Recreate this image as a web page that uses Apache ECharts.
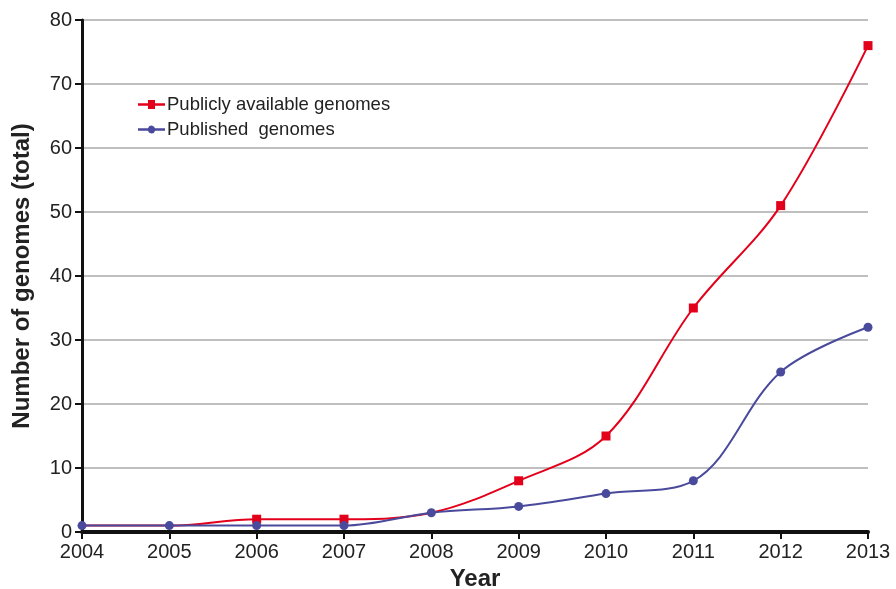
<!DOCTYPE html>
<html lang="en">
<head>
    <meta charset="UTF-8">
    <title>Genomes per year</title>
    <script src="https://cdn.jsdelivr.net/npm/echarts@6/dist/echarts.min.js"></script>
    <style>
        html, body { margin: 0; padding: 0; background: #fff; }
        #main { width: 896px; height: 589px; }
    </style>
</head>
<body>
    <div id="main"></div>
    <script type="text/javascript">
        // 数据
        var years = ['2004', '2005', '2006', '2007', '2008', '2009', '2010', '2011', '2012', '2013'];
        var publiclyAvailable = [1, 1, 2, 2, 3, 8, 15, 35, 51, 76];
        var published = [1, 1, 1, 1, 3, 4, 6, 8, 25, 32];

        var font = 'Liberation Sans, Arial, Helvetica, sans-serif';
        var red = '#e3001b';
        var blue = '#4a4a9c';

        // 蓝点与红点重合时隐藏红色方块
        function redSymbolSize(value, params) {
            return published[params.dataIndex] === publiclyAvailable[params.dataIndex] ? 0 : 9;
        }

        var option = {
            animation: false,
            textStyle: { fontFamily: font },
            grid: { left: 82, right: 28, top: 20, bottom: 57, outerBoundsMode: 'none', containLabel: false },
            legend: {
                orient: 'vertical',
                left: 133,
                top: 90,
                itemWidth: 27,
                itemHeight: 10,
                itemGap: 6,
                textStyle: { fontSize: 18.5, color: '#222', fontFamily: font, padding: [0, 0, 0, -3] },
                data: [
                    { name: 'Publicly available genomes', icon: 'path://M0,3.8 H10 V0.5 H17 V3.8 H27 V6.2 H17 V9.5 H10 V6.2 H0 Z' },
                    { name: 'Published  genomes', icon: 'path://M0,3.8 H10 A3.6,3.6 0 0 1 17,3.8 H27 V6.2 H17 A3.6,3.6 0 0 1 10,6.2 H0 Z' }
                ]
            },
            xAxis: {
                type: 'category',
                data: years,
                boundaryGap: false,
                name: 'Year',
                nameLocation: 'middle',
                nameGap: 34,
                nameTextStyle: { fontSize: 24, fontWeight: 'bold', color: '#222' },
                axisLine: { lineStyle: { color: '#111', width: 4 } },
                axisTick: { show: true, length: 7, lineStyle: { color: '#111', width: 2 } },
                axisLabel: { fontSize: 20, color: '#222', margin: 10, showMinLabel: true, showMaxLabel: true, interval: 0 },
                splitLine: { show: false }
            },
            yAxis: {
                type: 'value',
                min: 0,
                max: 80,
                interval: 10,
                name: 'Number of genomes (total)',
                nameLocation: 'middle',
                nameGap: 48,
                nameTextStyle: { fontSize: 24, fontWeight: 'bold', color: '#222' },
                axisLine: { show: true, lineStyle: { color: '#111', width: 3 } },
                axisTick: { show: true, length: 7, lineStyle: { color: '#111', width: 2 } },
                axisLabel: { fontSize: 20, color: '#222', margin: 10 },
                splitLine: { show: true, lineStyle: { color: '#aaaaaa', width: 1.5 } }
            },
            series: [
                {
                    name: 'Publicly available genomes',
                    type: 'line',
                    data: publiclyAvailable,
                    smooth: 0.35,
                    symbol: 'rect',
                    symbolSize: redSymbolSize,
                    color: red,
                    lineStyle: { color: red, width: 2 },
                    itemStyle: { color: red },
                    z: 2
                },
                {
                    name: 'Published  genomes',
                    type: 'line',
                    data: published,
                    smooth: 0.35,
                    symbol: 'circle',
                    symbolSize: 9,
                    color: blue,
                    lineStyle: { color: blue, width: 2 },
                    itemStyle: { color: blue },
                    z: 3
                }
            ]
        };

        var myChart = echarts.init(document.getElementById('main'));
        myChart.setOption(option);
    </script>
</body>
</html>
